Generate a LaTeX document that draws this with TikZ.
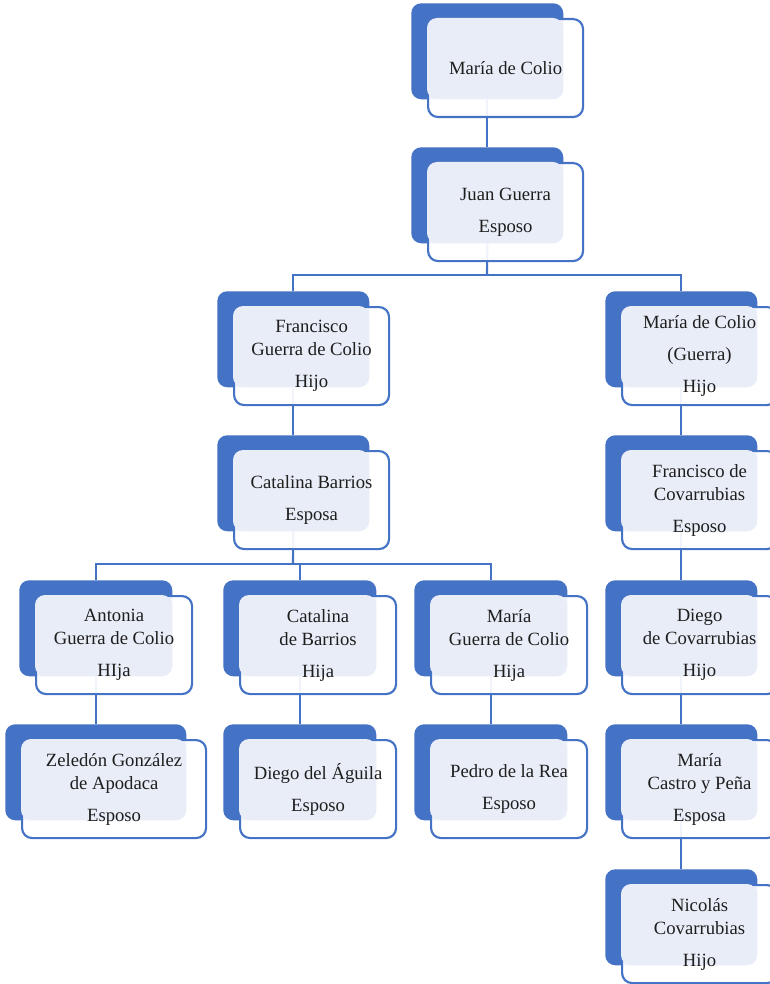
\documentclass[tikz,border=0pt]{standalone}
\usepackage{fontspec}
\setmainfont{Liberation Serif}
\definecolor{sablue}{HTML}{4472C4}
\definecolor{salight}{HTML}{E9EDF7}
\definecolor{txtcol}{HTML}{1E1E1E}
\pgfdeclarelayer{background}
\pgfsetlayers{background,main}
\tikzset{
  backbox/.style={fill=sablue, draw=none, rounded corners=7.5pt, inner sep=0pt, minimum height=72pt},
  frontbox/.style={fill=white, fill opacity=0.92, draw=sablue, line width=1.6pt, rounded corners=7.5pt, inner sep=0pt, minimum height=73.5pt},
  lightfill/.style={fill=salight, rounded corners=7.5pt},
  txt/.style={align=center, text=txtcol, inner sep=0pt, font=\fontsize{14}{17.25}\selectfont},
  conn/.style={draw=sablue, line width=1.6pt}
}
\newcommand\pbox[5]{%
  \node[backbox, minimum width=#4*0.75pt, anchor=north west] (#1) at (#2,#3) {};
  \node[frontbox, minimum width=(#4+3)*0.75pt, anchor=north west] (#1f) at ({#2+16},{#3+15}) {};
  \path[lightfill] ({#2+16},{#3+15}) rectangle ({#2+#4},{#3+96});
  \node[txt] (#1t) at (#1f.center) {#5};
}
\begin{document}
\begin{tikzpicture}[x=0.75pt,y=-0.75pt]
\useasboundingbox (0,0) rectangle (770,984);
\clip (0,0) rectangle (770,984);
\pbox{mo}{411}{3}{152}{María de Colio}
\pbox{jg}{411}{147}{152}{Juan Guerra\\[6.75pt]Esposo}
\pbox{fg}{217}{291}{152}{Francisco\\Guerra de Colio\\[6.75pt]Hijo}
\pbox{mc}{605}{291}{152}{María de Colio\\[6.75pt](Guerra)\\[6.75pt]Hijo}
\pbox{cb}{217}{435}{152}{Catalina Barrios\\[6.75pt]Esposa}
\pbox{fc}{605}{435}{152}{Francisco de\\Covarrubias\\[6.75pt]Esposo}
\pbox{an}{19}{580}{153}{Antonia\\Guerra de Colio\\[6.75pt]HIja}
\pbox{cd}{223}{580}{153}{Catalina\\de Barrios\\[6.75pt]Hija}
\pbox{mg}{414}{580}{153}{María\\Guerra de Colio\\[6.75pt]Hija}
\pbox{dc}{605}{580}{152}{Diego\\de Covarrubias\\[6.75pt]Hijo}
\pbox{ze}{5}{724}{181}{Zeledón González\\de Apodaca\\[6.75pt]Esposo}
\pbox{da}{223}{724}{153}{Diego del Águila\\[6.75pt]Esposo}
\pbox{pr}{414}{724}{153}{Pedro de la Rea\\[6.75pt]Esposo}
\pbox{mp}{605}{724}{152}{María\\Castro y Peña\\[6.75pt]Esposa}
\pbox{nc}{605}{869}{152}{Nicolás\\Covarrubias\\[6.75pt]Hijo}
\coordinate (j1) at (487,275);
\coordinate (j2) at (293,564);
\begin{pgfonlayer}{background}
\draw[conn] (mo.south) -- (jg.north);
\draw[conn] (jg.south) -- (j1);
\draw[conn] (fg.north) -- (fg.north |- j1) -- (mc.north |- j1) -- (mc.north);
\draw[conn] (fg.south) -- (cb.north);
\draw[conn] (cb.south) -- (j2);
\draw[conn] (an.north) -- (an.north |- j2) -- (mg.north |- j2) -- (mg.north);
\draw[conn] (cd.north) -- (cd.north |- j2);
\draw[conn] (an.south) -- (ze.north);
\draw[conn] (cd.south) -- (da.north);
\draw[conn] (mg.south) -- (pr.north);
\draw[conn] (mc.south) -- (fc.north);
\draw[conn] (fc.south) -- (dc.north);
\draw[conn] (dc.south) -- (mp.north);
\draw[conn] (mp.south) -- (nc.north);
\end{pgfonlayer}
\end{tikzpicture}
\end{document}
